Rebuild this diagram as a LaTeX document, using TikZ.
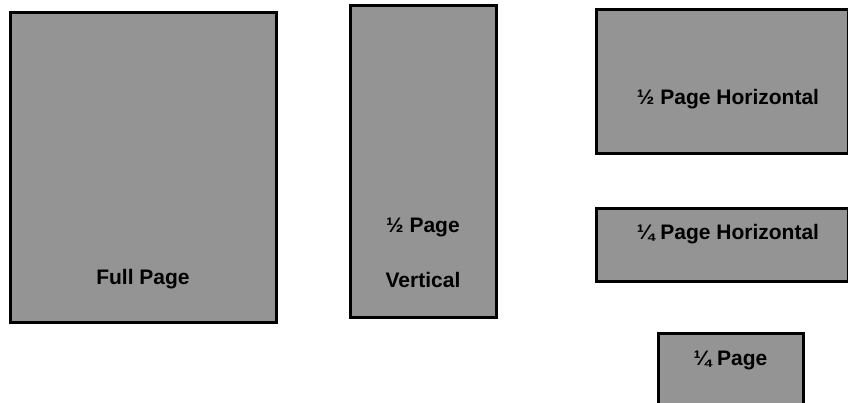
\documentclass[tikz,border=0pt]{standalone}
\usepackage{fontspec}
\setmainfont{Liberation Sans}
\usetikzlibrary{positioning}

\definecolor{boxgray}{RGB}{148,148,148}

\tikzset{
  pagebox/.style={rectangle,draw=black,line width=3pt,fill=boxgray,inner sep=0pt},
  pagelabel/.style={anchor=base,font=\fontsize{21}{25}\selectfont\bfseries,inner sep=0pt}
}

\begin{document}
\begin{tikzpicture}[x=1pt,y=-1pt]
\useasboundingbox (0,0) rectangle (848,402);

\node[pagebox,minimum width=266pt,minimum height=310pt] (full) at (143,167){};
\node[pagelabel] (fulltext) at (143,284){Full Page};

\node[pagebox,minimum width=146pt,minimum height=312pt] (halfvert) at (423,161){};
\node[pagelabel] (halfverttop) at (423,232){½ Page};
\node[pagelabel] (halfvertbot) at (423,287){Vertical};

\node[pagebox,minimum width=252pt,minimum height=144pt] (halfhor) at (722,81){};
\node[pagelabel] (halfhortext) at (728,104){½ Page Horizontal};

\node[pagebox,minimum width=252pt,minimum height=73pt] (quarterhor) at (722,244.5){};
\node[pagelabel] (quarterhortext) at (728,239){¼ Page Horizontal};

\node[pagebox,minimum width=145pt,minimum height=140pt] (quarter) at (730.5,403){};
\node[pagelabel] (quartertext) at (730.5,365){¼ Page};

\end{tikzpicture}
\end{document}
